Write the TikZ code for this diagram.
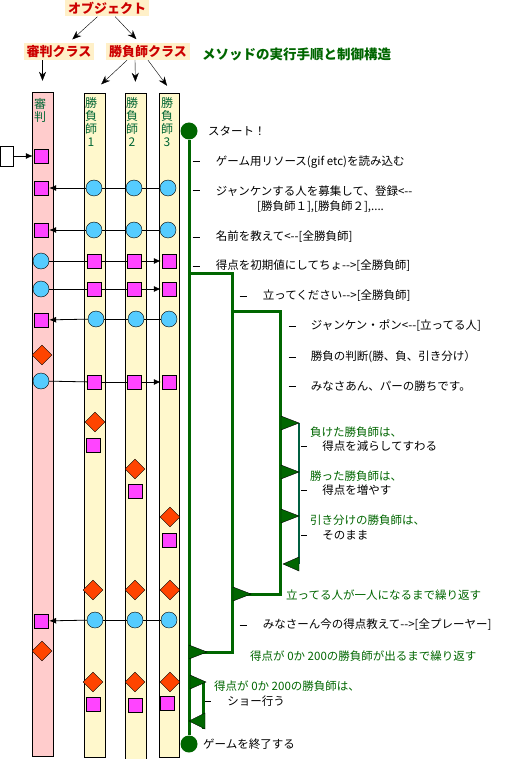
\documentclass[tikz,border=0pt]{standalone}
\usepackage{fontspec}
\setmainfont{Noto Sans CJK JP}[Ligatures=TeXOff]
\usepackage{xcolor}
\usetikzlibrary{arrows.meta, positioning, shapes.geometric}

\definecolor{clsred}{RGB}{204,0,0}
\definecolor{clsfill}{RGB}{255,240,200}
\definecolor{judgefill}{RGB}{255,204,204}
\definecolor{playerfill}{RGB}{255,248,204}
\definecolor{lanegreen}{RGB}{0,102,51}
\definecolor{flowgreen}{RGB}{0,102,0}
\definecolor{branchteal}{RGB}{0,96,64}
\definecolor{msgmagenta}{RGB}{255,68,255}
\definecolor{msgcyan}{RGB}{85,204,255}
\definecolor{msgorange}{RGB}{255,68,0}

\begin{document}
\begin{tikzpicture}[
            x=1pt, y=-1pt,                     % 1 unidad = 1 pixel de la figura
            every node/.style={inner sep=0pt, font=\fontsize{11.5}{13}\selectfont},
            cls/.style={
                fill=clsfill,
                text=clsred,
                inner xsep=3pt,
                minimum height=17pt,
                font=\fontsize{13}{15}\selectfont\bfseries
            },
            lane/.style={
                rectangle,
                draw=black,
                minimum width=21pt
            },
            lanelabel/.style={
                anchor=north,
                align=center,
                text=lanegreen,
                font=\fontsize{12}{13}\selectfont
            },
            boxm/.style={rectangle, draw=black, fill=msgmagenta, minimum size=14pt},
            ballm/.style={circle, draw=black, fill=msgcyan, minimum size=16pt},
            diam/.style={diamond, draw=black, fill=msgorange, minimum width=20pt, minimum height=20pt},
            inh/.style={draw, -{Stealth[length=9pt, width=7pt]}, shorten >=5pt},
            msg/.style={draw, line width=0.8pt, -{Latex[length=7pt, width=6pt]}, shorten >=1pt},
            link/.style={draw, line width=0.8pt},
            flow/.style={draw=flowgreen, line width=3pt},
            branch/.style={draw=branchteal, line width=2pt},
            looptri/.style={fill=flowgreen, draw=black, thin},
            terminal/.style={circle, fill=flowgreen, minimum size=17pt},
            txt/.style={anchor=west},
            gtxt/.style={anchor=west, text=flowgreen},
            dashmark/.style={}
        ]
            \useasboundingbox (0,0) rectangle (505,759);

            % --- CLASES ---
            \node [cls] (obj) at (107,8) {オブジェクト};
            \node [cls] (judgecls) at (59,51.5) {審判クラス};
            \node [cls] (playercls) at (148,51.5) {勝負師クラス};
            \node [anchor=west, text=flowgreen, font=\fontsize{13.5}{15}\selectfont\bfseries] (title) at (202,54) {メソッドの実行手順と制御構造};

            % --- CARRILES ---
            \node [lane, fill=judgefill, minimum height=664pt] (judge) at (42.5,424) {};
            \node [lane, fill=playerfill, minimum height=664pt] (p1) at (94.5,425) {};
            \node [lane, fill=playerfill, minimum height=666pt] (p2) at (135.5,426) {};
            \node [lane, fill=playerfill, minimum height=664pt, minimum width=20pt] (p3) at (169,425) {};

            \node [lanelabel] at (40,98) {審\\判};
            \node [lanelabel] at (91,97) {勝\\負\\師\\1};
            \node [lanelabel] at (132,97) {勝\\負\\師\\2};
            \node [lanelabel] at (167,97) {勝\\負\\師\\3};

            \path [inh] (obj) -- (judgecls);
            \path [inh] (obj) -- (playercls);
            \path [inh] (judgecls.south -| judge) -- ([yshift=6pt]judge.north);
            \path [inh] ([xshift=-21pt]playercls.south) -- ([xshift=3pt, yshift=5pt]p1.north);
            \path [inh] ([xshift=-13pt]playercls.south) -- ([yshift=6pt]p2.north);
            \path [inh] (playercls.south) -- ([xshift=1pt, yshift=3pt]p3.north);

            % --- MENSAJES ---
            \node [rectangle, draw=black, fill=white, minimum width=13pt, minimum height=20pt] (ext) at (6.5,156) {};
            \node [boxm] (jA) at (41,156) {};
            \path [msg] (ext) -- (jA);

            \node [boxm] (jB) at (41,188) {};
            \node [ballm] (bB1) at (94,188) {};
            \node [ballm] (bB2) at (134,188) {};
            \node [ballm] (bB3) at (168,188) {};
            \path [link] (bB3) -- (bB2);
            \path [link] (bB2) -- (bB1);
            \path [msg] (bB1) -- (jB);

            \node [boxm] (jC) at (41,230) {};
            \node [ballm] (bC1) at (94,230) {};
            \node [ballm] (bC2) at (134,230) {};
            \node [ballm] (bC3) at (168,230) {};
            \path [link] (bC3) -- (bC2);
            \path [link] (bC2) -- (bC1);
            \path [msg] (bC1) -- (jC);

            \node [ballm] (jD) at (41,261) {};
            \node [boxm] (bD1) at (94,261) {};
            \node [boxm] (bD2) at (134,261) {};
            \node [boxm] (bD3) at (169,261) {};
            \path [link] (jD) -- (bD1);
            \path [link] (bD1) -- (bD2);
            \path [msg] (bD2) -- (bD3);

            \node [ballm] (jE) at (41,289) {};
            \node [boxm] (bE1) at (94,289) {};
            \node [boxm] (bE2) at (134,289) {};
            \node [boxm] (bE3) at (169,289) {};
            \path [link] (jE) -- (bE1);
            \path [link] (bE1) -- (bE2);
            \path [msg] (bE2) -- (bE3);

            \node [boxm] (jF) at (41,320) {};
            \node [ballm] (bF1) at (96,319) {};
            \node [ballm] (bF2) at (136,319) {};
            \node [ballm] (bF3) at (169,319) {};
            \path [link] (bF3) -- (bF2);
            \path [link] (bF2) -- (bF1);
            \path [msg] (bF1) -- (jF);

            \node [diam] (jG) at (42,355) {};

            \node [ballm] (jH) at (41,381) {};
            \node [boxm] (bH1) at (94,382) {};
            \node [boxm] (bH2) at (134,382) {};
            \node [boxm] (bH3) at (169,382) {};
            \path [link] (jH) -- (bH1);
            \path [link] (bH1) -- (bH2);
            \path [msg] (bH2) -- (bH3);

            \node [diam] (dK1) at (95,422) {};
            \node [boxm] (bK1) at (93,445) {};
            \node [diam] (dK2) at (135,469) {};
            \node [boxm] (bK2) at (135,491) {};
            \node [diam] (dK3) at (170,517) {};
            \node [boxm] (bK3) at (169,540) {};

            \node [diam] (dL1) at (93,590) {};
            \node [diam] (dL2) at (135,590) {};
            \node [diam] (dL3) at (170,590) {};

            \node [boxm] (jI) at (41,621) {};
            \node [ballm] (bI1) at (95,620) {};
            \node [ballm] (bI2) at (135,620) {};
            \node [ballm] (bI3) at (169,620) {};
            \path [link] (bI3) -- (bI2);
            \path [link] (bI2) -- (bI1);
            \path [msg] (bI1) -- (jI);

            \node [diam] (jJ) at (42,651) {};

            \node [diam] (dM1) at (93,682) {};
            \node [diam] (dM2) at (135,682) {};
            \node [diam] (dM3) at (170,682) {};
            \node [boxm] (bM1) at (93,704) {};
            \node [boxm] (bM2) at (135,705) {};
            \node [boxm] (bM3) at (167,703) {};

            % --- FLUJO DE CONTROL ---
            \node [terminal] (start) at (189,131) {};
            \node [terminal] (stop) at (189,744) {};
            \path [flow] (start) -- (stop);

            \coordinate (o1) at (189,273);
            \coordinate (o2) at (232,273);
            \coordinate (o3) at (232,652);
            \coordinate (o4) at (189,652);
            \path [flow] (o1) -- (o2) -- (o3) -- (o4);
            \filldraw [looptri] (189,645) -- (207,652) -- (189,659) -- cycle;

            \coordinate (i1) at (232,311);
            \coordinate (i2) at (280,311);
            \coordinate (i3) at (280,594);
            \coordinate (i4) at (232,594);
            \path [flow] (i1) -- (i2) -- (i3) -- (i4);
            \filldraw [looptri] (233,587) -- (251,594) -- (233,601) -- cycle;

            \coordinate (c1) at (299,423);
            \coordinate (c2) at (299,564);
            \path [branch] (c1) -- (c2);
            \filldraw [looptri] (281,416) -- (299,423) -- (281,430) -- cycle;
            \filldraw [looptri] (281,465) -- (299,472) -- (281,479) -- cycle;
            \filldraw [looptri] (281,509) -- (299,516) -- (281,523) -- cycle;
            \filldraw [looptri] (299,557) -- (283,564) -- (299,571) -- cycle;

            \coordinate (e1) at (203.5,682);
            \coordinate (e2) at (203.5,729);
            \path [flow] (e1) -- (e2);
            \filldraw [looptri] (190,675) -- (206,682) -- (190,689) -- cycle;
            \filldraw [looptri] (205,713) -- (189,721) -- (205,729) -- cycle;

            % --- TEXTOS ---
            \node [txt] (tstart) at (208,131) {スタート！};

            \node [dashmark] (d1) at (196,162) {\rule{7pt}{1pt}};
            \node [txt, right=16pt of d1] (t1) {ゲーム用リソース(gif etc)を読み込む};
            \node [dashmark] (d2) at (196,191) {\rule{7pt}{1pt}};
            \node [txt, right=16pt of d2] (t2) {ジャンケンする人を募集して、登録<--};
            \node [txt] (t2b) at (257,207) {[勝負師１],[勝負師２],....};
            \node [dashmark] (d3) at (196,237) {\rule{7pt}{1pt}};
            \node [txt, right=16pt of d3] (t3) {名前を教えて<--[全勝負師]};
            \node [dashmark] (d4) at (196,266) {\rule{7pt}{1pt}};
            \node [txt, right=16pt of d4] (t4) {得点を初期値にしてちょ-->[全勝負師]};

            \node [dashmark] (d5) at (243,296) {\rule{7pt}{1pt}};
            \node [txt, right=16pt of d5] (t5) {立ってください-->[全勝負師]};

            \node [dashmark] (d6) at (292,326) {\rule{7pt}{1pt}};
            \node [txt, right=15pt of d6] (t6) {ジャンケン・ポン<--[立ってる人]};
            \node [dashmark] (d7) at (292,357) {\rule{7pt}{1pt}};
            \node [txt, right=15pt of d7] (t7) {勝負の判断(勝、負、引き分け）};
            \node [dashmark] (d8) at (292,386) {\rule{7pt}{1pt}};
            \node [txt, right=15pt of d8] (t8) {みなさあん、パーの勝ちです。};

            \node [gtxt] (g9) at (310,432) {負けた勝負師は、};
            \node [dashmark] (d9) at (304,446) {\rule{6pt}{1pt}};
            \node [txt, right=15pt of d9] (t9) {得点を減らしてすわる};
            \node [gtxt] (g10) at (310,476) {勝った勝負師は、};
            \node [dashmark] (d10) at (304,490) {\rule{6pt}{1pt}};
            \node [txt, right=15pt of d10] (t10) {得点を増やす};
            \node [gtxt] (g11) at (310,520) {引き分けの勝負師は、};
            \node [dashmark] (d11) at (304,535) {\rule{6pt}{1pt}};
            \node [txt, right=15pt of d11] (t11) {そのまま};

            \node [gtxt] (g12) at (286,595) {立ってる人が一人になるまで繰り返す};

            \node [dashmark] (d13) at (243,625) {\rule{7pt}{1pt}};
            \node [txt, right=16pt of d13] (t13) {みなさーん今の得点教えて-->[全プレーヤー]};

            \node [gtxt] (g14) at (250,656) {得点が 0か 200の勝負師が出るまで繰り返す};

            \node [gtxt] (g15) at (214,686) {得点が 0か 200の勝負師は、};
            \node [dashmark] (d15) at (208,701) {\rule{6pt}{1pt}};
            \node [txt, right=16pt of d15] (t15) {ショー行う};

            \node [txt] (tstop) at (203,744) {ゲームを終了する};
        \end{tikzpicture}
\end{document}
